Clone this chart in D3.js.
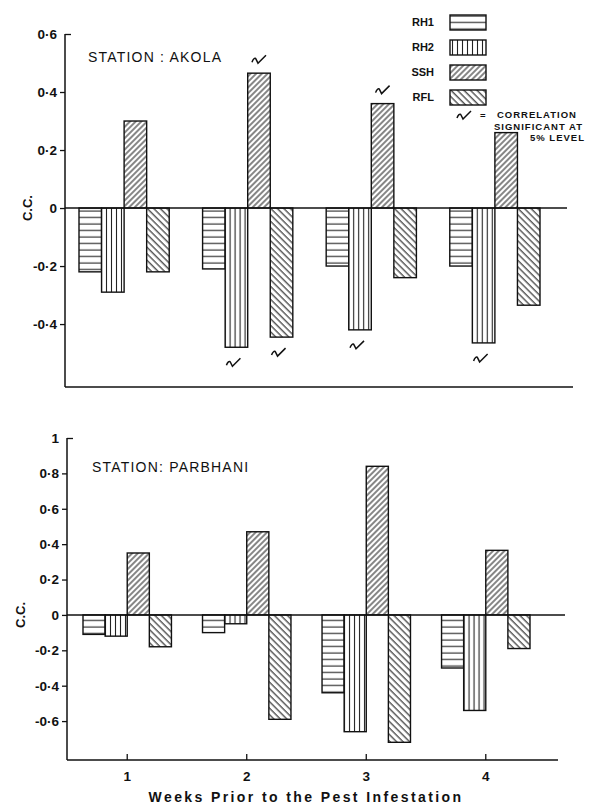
<!DOCTYPE html>
<html>
<head>
<meta charset="utf-8">
<script src="https://cdn.jsdelivr.net/npm/d3@7/dist/d3.min.js"></script>
<style>
body { margin: 0; background: #fff; }
text { font-family: "Liberation Sans", Arial, sans-serif; fill: #111; }
</style>
</head>
<body>
<svg id="chart"></svg>
<script>
// weeks prior to pest infestation
var weeks = ["1", "2", "3", "4"];
var series = ["RH1", "RH2", "SSH", "RFL"];

// correlation coefficients, station Akola
var akolaRH1 = [-0.22, -0.21, -0.20, -0.20];
var akolaRH2 = [-0.29, -0.48, -0.42, -0.465];
var akolaSSH = [0.30, 0.465, 0.36, 0.26];
var akolaRFL = [-0.22, -0.445, -0.24, -0.335];
// which bars are significant at 5% (per week)
var akolaSig = [[], ["RH2", "SSH", "RFL"], ["RH2", "SSH"], ["RH2"]];
var akolaTicks = [0.6, 0.4, 0.2, 0, -0.2, -0.4];

// station Parbhani
var parbhaniRH1 = [-0.11, -0.10, -0.44, -0.30];
var parbhaniRH2 = [-0.12, -0.05, -0.66, -0.54];
var parbhaniSSH = [0.35, 0.47, 0.84, 0.365];
var parbhaniRFL = [-0.18, -0.59, -0.72, -0.19];
var parbhaniSig = [[], [], [], []];
var parbhaniTicks = [1, 0.8, 0.6, 0.4, 0.2, 0, -0.2, -0.4, -0.6];

var W = 607, H = 806;
var svg = d3.select("#chart").attr("width", W).attr("height", H);

// hatch patterns
var defs = svg.append("defs");
function hatch(id, w, h, x1, y1, x2, y2, rot) {
	var p = defs.append("pattern")
		.attr("id", id)
		.attr("patternUnits", "userSpaceOnUse")
		.attr("width", w).attr("height", h);
	if (rot) p.attr("patternTransform", "rotate(" + rot + ")");
	p.append("rect").attr("width", w).attr("height", h).attr("fill", "#fff");
	p.append("line")
		.attr("x1", x1).attr("y1", y1).attr("x2", x2).attr("y2", y2)
		.attr("stroke", "#222").attr("stroke-width", 1.1);
}
hatch("p-RH1", 10, 6.5, 0, 3, 10, 3);
hatch("p-RH2", 5, 10, 2.5, 0, 2.5, 10);
hatch("p-SSH", 4, 10, 2, 0, 2, 10, 45);
hatch("p-RFL", 4.6, 10, 2, 0, 2, 10, -45);

function fmt(d) {
	if (d === 0) return "0";
	if (d === 1) return "1";
	return d3.format(".1f")(d).replace("−", "-").replace(".", "·");
}

// significance mark  ~/
var sigPath = "M-7,2 C-6,-1 -4,-3 -3,-1 L-1,3 L7,-5";

function drawPanel(cfg) {
	var g = svg.append("g");
	var data = weeks.map(function (w, i) {
		return {
			week: w,
			values: series.map(function (s) {
				return { key: s, value: cfg.values[s][i], sig: cfg.sig[i].indexOf(s) >= 0 };
			})
		};
	});

	var x = d3.scaleBand().domain(weeks).range(cfg.xRange).paddingInner(cfg.pad).paddingOuter(0);
	var xs = d3.scaleBand().domain(series).range([0, x.bandwidth()]);
	var y = d3.scaleLinear().domain(cfg.yDomain).range(cfg.yRange);

	// y axis
	var yAx = g.append("g")
		.attr("transform", "translate(" + cfg.axisX + ",0)")
		.call(d3.axisLeft(y).tickValues(cfg.ticks).tickSize(5).tickSizeOuter(0).tickPadding(3).tickFormat(fmt));
	yAx.select(".domain").remove();
	yAx.selectAll(".tick line").attr("stroke", "#111").attr("stroke-width", 1.3)
		.attr("x2", function (d, i) { return i === 0 ? 6 : -5; });
	yAx.selectAll(".tick text")
		.style("font-size", "13.5px").style("font-weight", "bold").attr("fill", "#111");

	g.append("line")
		.attr("x1", cfg.axisX).attr("x2", cfg.axisX)
		.attr("y1", y(cfg.yDomain[1])).attr("y2", y(cfg.yDomain[0]))
		.attr("stroke", "#111").attr("stroke-width", 1.5);
	// base line
	g.append("line")
		.attr("x1", cfg.axisX).attr("x2", cfg.baseEnd)
		.attr("y1", y(cfg.yDomain[0])).attr("y2", y(cfg.yDomain[0]))
		.attr("stroke", "#111").attr("stroke-width", 1.5);

	if (cfg.showWeeks) {
		var xAx = g.append("g")
			.attr("transform", "translate(0," + y(cfg.yDomain[0]) + ")")
			.call(d3.axisBottom(x).tickSize(-6).tickSizeOuter(0).tickPadding(11));
		xAx.select(".domain").remove();
		xAx.selectAll(".tick line").attr("stroke", "#111").attr("stroke-width", 1.3);
		xAx.selectAll(".tick text")
			.style("font-size", "13.5px").style("font-weight", "bold").attr("fill", "#111");
	}

	// bars
	var groups = g.selectAll(".grp").data(data).enter().append("g")
		.attr("class", "grp")
		.attr("transform", function (d) { return "translate(" + x(d.week) + ",0)"; });
	groups.selectAll("rect").data(function (d) { return d.values; }).enter().append("rect")
		.attr("x", function (d) { return xs(d.key); })
		.attr("y", function (d) { return y(Math.max(0, d.value)); })
		.attr("width", xs.bandwidth())
		.attr("height", function (d) { return Math.abs(y(d.value) - y(0)); })
		.attr("fill", function (d) { return "url(#p-" + d.key + ")"; })
		.attr("stroke", "#111").attr("stroke-width", 1.4);

	groups.selectAll(".sig").data(function (d) { return d.values.filter(function (v) { return v.sig; }); })
		.enter().append("path")
		.attr("class", "sig")
		.attr("d", sigPath)
		.attr("transform", function (d) {
			var cx = xs(d.key) + xs.bandwidth() / 2 + (d.value > 0 ? 0 : -3);
			var cy = d.value > 0 ? y(d.value) - 13 : y(d.value) + 16;
			return "translate(" + cx + "," + cy + ")";
		})
		.attr("fill", "none").attr("stroke", "#111").attr("stroke-width", 1.5);

	// zero line
	g.append("line")
		.attr("x1", cfg.axisX).attr("x2", cfg.zeroEnd)
		.attr("y1", y(0)).attr("y2", y(0))
		.attr("stroke", "#111").attr("stroke-width", 1.5);

	// station label
	g.append("text")
		.attr("x", cfg.titleX).attr("y", cfg.titleY)
		.style("font-size", "14px").style("letter-spacing", "1.2px")
		.text(cfg.title);

	// y label
	g.append("text")
		.attr("transform", "translate(" + cfg.ccX + "," + y(0) + ") rotate(-90)")
		.attr("text-anchor", "middle")
		.attr("dy", "0.35em")
		.style("font-size", "13px").style("font-weight", "bold")
		.text("C.C.");
}

drawPanel({
	values: { RH1: akolaRH1, RH2: akolaRH2, SSH: akolaSSH, RFL: akolaRFL },
	sig: akolaSig, ticks: akolaTicks,
	yDomain: [-0.617, 0.6], yRange: [387, 34],
	xRange: [79, 540], pad: 0.27,
	axisX: 65, zeroEnd: 567, baseEnd: 573,
	title: "STATION : AKOLA", titleX: 88, titleY: 62, ccX: 27
});

drawPanel({
	values: { RH1: parbhaniRH1, RH2: parbhaniRH2, SSH: parbhaniSSH, RFL: parbhaniRFL },
	sig: parbhaniSig, ticks: parbhaniTicks,
	yDomain: [-0.82, 1], yRange: [760, 438],
	xRange: [83, 530], pad: 0.26,
	axisX: 67, zeroEnd: 565, baseEnd: 558,
	title: "STATION: PARBHANI", titleX: 92, titleY: 472, ccX: 20,
	showWeeks: true
});

// legend
var leg = svg.append("g");
series.forEach(function (s, i) {
	var yy = 15 + i * 25;
	leg.append("text")
		.attr("x", 434).attr("y", yy + 11)
		.attr("text-anchor", "end")
		.style("font-size", "11px").style("font-weight", "bold")
		.text(s);
	leg.append("rect")
		.attr("x", 450).attr("y", yy)
		.attr("width", 36).attr("height", 15)
		.attr("fill", "url(#p-" + s + ")")
		.attr("stroke", "#111").attr("stroke-width", 1.4);
});
leg.append("path")
	.attr("d", sigPath)
	.attr("transform", "translate(464,116)")
	.attr("fill", "none").attr("stroke", "#111").attr("stroke-width", 1.5);
var noteLines = [["=", 480, 119], ["CORRELATION", 497, 118], ["SIGNIFICANT AT", 494, 129.5], ["5% LEVEL", 530, 141]];
noteLines.forEach(function (n) {
	leg.append("text")
		.attr("x", n[1]).attr("y", n[2])
		.style("font-size", "9.5px").style("font-weight", "bold").style("letter-spacing", "1px")
		.text(n[0]);
});

// x axis title
svg.append("text")
	.attr("x", 306).attr("y", 802)
	.attr("text-anchor", "middle")
	.style("font-size", "14px").style("font-weight", "bold").style("letter-spacing", "2.4px")
	.text("Weeks Prior to the Pest Infestation");
</script>
</body>
</html>
